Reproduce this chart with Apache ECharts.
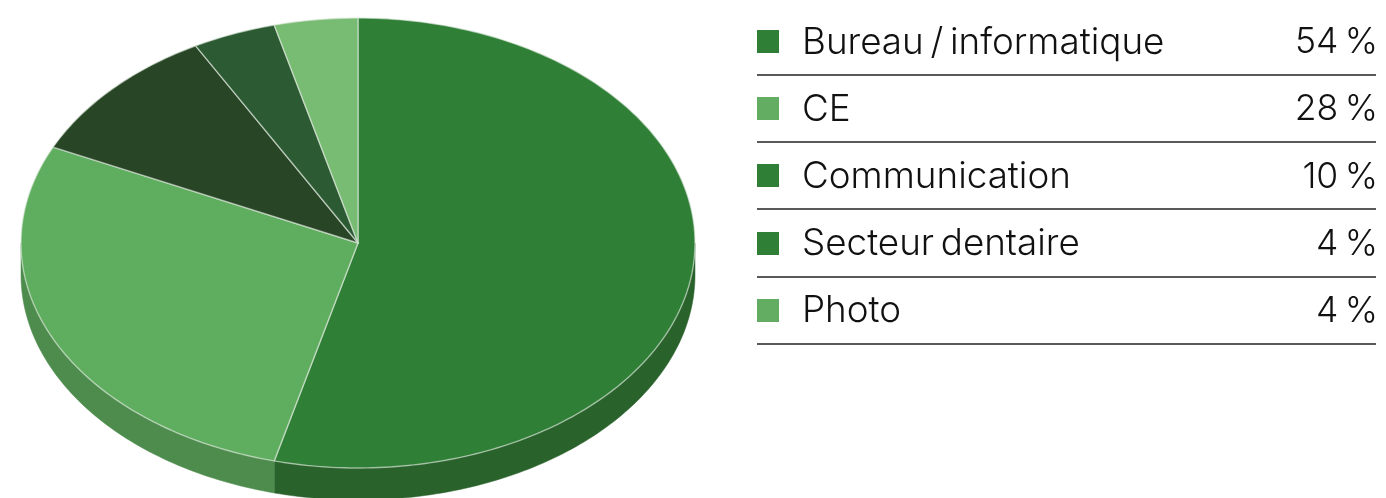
<!DOCTYPE html>
<html><head><meta charset="utf-8">
<style>html,body{margin:0;padding:0;background:#fff}#c{width:1386px;height:498px}</style>
<script src="https://cdn.jsdelivr.net/npm/echarts@6/dist/echarts.min.js"></script>
</head><body><div id="c"></div>
<script>
const categories = ['Bureau / informatique','CE','Communication','Secteur dentaire','Photo'];
const values = [54,28,10,4,4];
const labels = ['54 %','28 %','10 %','4 %','4 %'];
const topColors = ['#2f7f36','#5fad5f','#284525','#2c5a32','#78bb72'];
const sideColors = ['#2a622c','#4e8c4e','#284525','#2c5a32','#78bb72'];
const legendColors = ['#2f7f36','#62ad62','#2f7f36','#2f7f36','#62ad62'];

const CX=358, CY=243, RX=337, RY=225, DEPTH=32;
const total = values.reduce((a,b)=>a+b,0);
const starts = []; values.reduce((a,v,i)=>(starts[i]=a,a+v),0);
const pt=(deg,dy)=>{const r=deg*Math.PI/180;return [CX+RX*Math.sin(r),CY-RY*Math.cos(r)+(dy||0)];};
const arc=(a,b,dy)=>{const n=Math.max(2,Math.ceil(Math.abs(b-a)));const o=[];for(let i=0;i<=n;i++)o.push(pt(a+(b-a)*i/n,dy));return o;};
const span=i=>[starts[i]/total*360,(starts[i]+values[i])/total*360];
const thin=s=>s.replace(/ /g,'\u2009');

const chart = echarts.init(document.getElementById('c'),null,{renderer:'canvas'});
const font = 'Inter';
const rows = categories.map((c,i)=>i);
const ROW0=41, STEP=67.2;
chart.setOption({
  animation:false,
  series:[
    {type:'custom',coordinateSystem:'none',data:values,silent:true,z:1,
     renderItem(p){
       const [a,b]=span(p.dataIndex);
       const s=Math.max(a,90),e=Math.min(b,270);
       if(e<=s) return {type:'group',children:[]};
       return {type:'polygon',shape:{points:arc(s,e,0).concat(arc(e,s,DEPTH))},
               style:{fill:sideColors[p.dataIndex],stroke:sideColors[p.dataIndex],lineWidth:0.5}};
     }},
    {type:'custom',coordinateSystem:'none',data:values,silent:true,z:2,
     renderItem(p){
       const [a,b]=span(p.dataIndex);
       return {type:'polygon',shape:{points:[[CX,CY]].concat(arc(a,b,0))},
               style:{fill:topColors[p.dataIndex],stroke:'rgba(225,235,225,0.6)',lineWidth:1.4,lineJoin:'round'}};
     }},
    {type:'custom',coordinateSystem:'none',data:rows,silent:true,z:3,
     renderItem(p){
       const i=p.dataIndex,y=ROW0+STEP*i;
       return {type:'group',children:[
         {type:'rect',shape:{x:757,y:Math.round(y)-11,width:22,height:23},style:{fill:legendColors[i]}},
         {type:'text',style:{x:802,y:y+1.5,text:thin(categories[i]),fill:'#111',font:'300 36.8px '+font,textAlign:'left',textVerticalAlign:'middle'}},
         {type:'text',style:{x:1378,y:y+1.5,text:thin(labels[i]),fill:'#111',font:'300 35.5px '+font,textAlign:'right',textVerticalAlign:'middle'}},
         {type:'line',shape:{x1:757,y1:Math.round(y+34),x2:1376,y2:Math.round(y+34)},style:{stroke:'#222',lineWidth:1.4}}
       ]};
     }}
  ]
});
</script></body></html>
